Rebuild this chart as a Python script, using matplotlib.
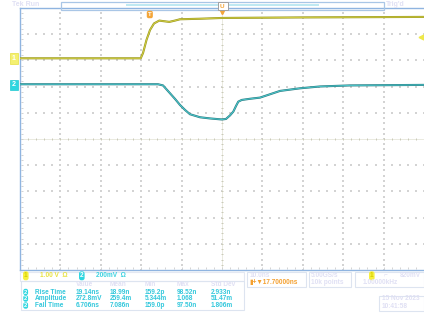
import numpy as np
import matplotlib.pyplot as plt
from matplotlib.patches import Rectangle

# scope settings
ch1_scale = 1.0      # V/div
ch2_scale = 0.2      # V/div
ch1_pos = 3.08       # divisions above centre
ch2_pos = 2.09
time_div = 10.0      # ns/div

# CH1 (yellow) trace, time in ns, volts relative to baseline
ch1_t = [-50, -20.12, -19.55, -18.69, -17.82, -16.83, -15.52, -14.60, -13.04,
         -11.63, -10.40, -5.45, 0, 19.31, 50]
ch1_v = [0, 0, 0.20, 0.70, 1.08, 1.33, 1.44, 1.42, 1.39,
         1.44, 1.49, 1.51, 1.54, 1.56, 1.58]

# CH2 (cyan) trace
ch2_t = [-50, -15.84, -14.60, -12.87, -11.63, -10.40, -9.16, -7.92, -5.45, -2.97,
         0, 0.99, 1.98, 2.80, 3.47, 4.03, 4.88, 6.93, 9.41, 14.36, 19.31, 24.26,
         31.68, 50]
ch2_v = [0, 0, -0.009, -0.069, -0.112, -0.158, -0.196, -0.229, -0.252, -0.261,
         -0.269, -0.265, -0.238, -0.209, -0.166, -0.133, -0.120, -0.111, -0.102,
         -0.051, -0.031, -0.017, -0.009, -0.005]

meas_cols = ["Value", "Mean", "Min", "Max", "Std Dev"]
meas_rows = ["Rise Time", "Amplitude", "Fall Time"]
meas_vals = [["19.14ns", "18.99n", "159.2p", "98.52n", "2.933n"],
             ["272.8mV", "259.4m", "5.344m", "1.068", "51.47m"],
             ["6.706ns", "7.086n", "159.0p", "97.50n", "1.806m"]]

W, H = 424, 322
FONT = ["Liberation Sans", "DejaVu Sans"]
fig = plt.figure(figsize=(W / 100, H / 100), dpi=100)
fig.patch.set_facecolor("white")


def fx(x):
    return x / W


def fy(y):
    return 1 - y / H


def txt(x, y, s, color, size=4.7, **kw):
    fig.text(fx(x), fy(y), s, color=color, fontsize=size, fontweight="bold",
             va="center", ha="left", family=FONT, **kw)


def box(x0, y0, x1, y1, ec="#dde4f0", fc="none", lw=0.8, z=1):
    fig.patches.append(Rectangle((fx(x0), fy(y1)), fx(x1) - fx(x0), fy(y0) - fy(y1),
                                 transform=fig.transFigure, ec=ec, fc=fc, lw=lw, zorder=z))


ax = fig.add_axes([fx(20), fy(270), fx(424) - fx(20), fy(8) - fy(270)])
ax.set_xlim(-5 * time_div, 5 * time_div)
ax.set_ylim(-5, 5)
ax.set_xticks([])
ax.set_yticks([])
for s in ["left", "bottom", "top"]:
    ax.spines[s].set_color("#8fb4e0")
    ax.spines[s].set_linewidth(1.0)
ax.spines["right"].set_visible(False)

# graticule dots
gc = "#d3d3d3"
minor_x = np.arange(-50, 50.01, 2)
minor_y = np.arange(-5, 5.01, 0.2)
for k in range(-4, 5):
    xs = k * time_div
    if k != 0:
        ax.scatter(np.full(minor_y.size, xs), minor_y, s=0.65, c=gc, marker="s", lw=0, zorder=1)
        ax.scatter(minor_x, np.full(minor_x.size, float(k)), s=0.65, c=gc, marker="s", lw=0, zorder=1)
# centre cross with small ticks, and edge ticks
ax.plot([0, 0], [-5, 5], color="#e6e6da", lw=0.6, zorder=1)
ax.plot([-50, 50], [0, 0], color="#e6e6da", lw=0.6, zorder=1)
ax.scatter(np.zeros(minor_y.size), minor_y, s=4, c="#cacab8", marker="_", lw=0.7, zorder=1)
ax.scatter(minor_x, np.zeros(minor_x.size), s=4, c="#cacab8", marker="|", lw=0.7, zorder=1)
ax.scatter(np.full(minor_y.size, -49.6), minor_y, s=3, c="#cccccc", marker="_", lw=0.6, zorder=1)
ax.scatter(minor_x, np.full(minor_x.size, -4.92), s=3, c="#cccccc", marker="|", lw=0.6, zorder=1)

# traces
y1 = np.array(ch1_v) / ch1_scale + ch1_pos
y2 = np.array(ch2_v) / ch2_scale + ch2_pos
ax.plot(ch1_t, y1, color="#98961e", lw=1.5, solid_joinstyle="round", zorder=3)
ax.plot(ch1_t, y1, color="#d2ce44", lw=0.7, solid_joinstyle="round", zorder=4)
ax.plot(ch2_t, y2, color="#2a7a80", lw=1.5, solid_joinstyle="round", zorder=3)
ax.plot(ch2_t, y2, color="#4cc8cc", lw=0.7, solid_joinstyle="round", zorder=4)

# channel markers at the left edge
txt(12, 58.5, "1", "white", size=5.0,
    bbox=dict(boxstyle="square,pad=0.25", fc="#f4f070", ec="#e6e040", lw=0.5))
txt(12, 85, "2", "white", size=5.0,
    bbox=dict(boxstyle="square,pad=0.25", fc="#2ed6e0", ec="#20c8d0", lw=0.5))
# trigger level arrow on the right
fig.lines.append(plt.Line2D([fx(421)], [fy(37)], marker="<", ms=3.5, color="#eee84a",
                            transform=fig.transFigure))
# trigger position marker
txt(148, 14.5, "T", "white", size=4.4,
    bbox=dict(boxstyle="round,pad=0.2,rounding_size=0.3", fc="#f4a63a", ec="none"))

# record bar at the top
box(61, 2, 384, 9.5, ec="#a9c6e6", lw=0.9)
box(126, 4.3, 319, 6.3, ec="none", fc="#bfe9f2")
box(218, 2, 228, 9.5, ec="#a0a0a0", fc="white", lw=0.7, z=2)
txt(220, 6.3, "U", "#f4a63a", size=4.6, zorder=3)
fig.lines.append(plt.Line2D([fx(222)], [fy(11.5)], marker="v", ms=3, color="#f4a63a",
                            transform=fig.transFigure))
txt(12, 5, "Tek Run", "#e0e0f4", size=5.0)
txt(386, 5, "Trig'd", "#e0e0f4", size=5.0)

# channel readouts
box(20, 272, 244, 280.5, ec="#e4e8f2")
txt(24, 275.8, "1", "#d8d000", size=4.7,
    bbox=dict(boxstyle="round,pad=0.15,rounding_size=0.35", fc="#f6f040", ec="none"))
txt(40, 275.8, "1.00 V  Ω", "#e8e240")
txt(80, 275.8, "2", "white", size=4.7,
    bbox=dict(boxstyle="round,pad=0.15,rounding_size=0.35", fc="#2ed6e0", ec="none"))
txt(96, 275.8, "200mV  Ω", "#3cd2e0")

# measurement table
box(20.5, 280.7, 244, 310)
col_x = [76, 110, 145, 177, 211]
for cx, name in zip(col_x, meas_cols):
    txt(cx, 284.5, name, "#e0e0f4")
row_y = [292, 298.5, 305.5]
for ry, name, vals in zip(row_y, meas_rows, meas_vals):
    txt(24, ry, "2", "white", size=4.3,
        bbox=dict(boxstyle="round,pad=0.12,rounding_size=0.35", fc="#2ed6e0", ec="none"))
    txt(35, ry, name, "#34c8dc")
    for cx, v in zip(col_x, vals):
        txt(cx, ry, v, "#34c8dc")

# timebase / acquisition / trigger readouts
box(247, 272, 306, 287)
txt(250, 275.8, "10.0ns", "#e0e0f4")
txt(249, 282.8, "▮+▼17.70000ns", "#f4a030")
box(309, 272, 351, 287)
txt(311, 275.8, "5.00GS/s", "#e0e0f4")
txt(311, 282.8, "10k points", "#e0e0f4")
box(355, 272, 424, 287)
txt(370, 275.8, "1", "#d8d000", size=4.7,
    bbox=dict(boxstyle="round,pad=0.15,rounding_size=0.35", fc="#f6f040", ec="none"))
txt(384, 275.8, "⌐", "#e0e0f4")
txt(400, 275.8, "820mV", "#e0e0f4")
txt(363, 282.8, "1.00000kHz", "#e0e0f4")
box(379, 295.5, 424, 310.5)
txt(382, 299, "15 Nov 2023", "#e0e0f4")
txt(382, 306, "10:41:58", "#e0e0f4")

fig.savefig("out.png", dpi=100, facecolor="white")
